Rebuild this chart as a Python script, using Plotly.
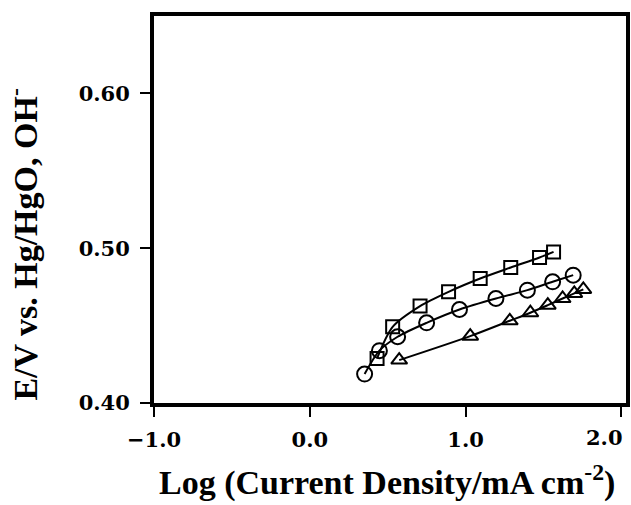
import plotly.graph_objects as go

# Data
sq_x = [0.432, 0.532, 0.708, 0.891, 1.094, 1.290, 1.475, 1.565]
sq_y = [0.4288, 0.4492, 0.4626, 0.4718, 0.4804, 0.4875, 0.4940, 0.4976]

ci_x = [0.352, 0.447, 0.564, 0.750, 0.961, 1.195, 1.397, 1.559, 1.691]
ci_y = [0.4187, 0.4338, 0.4428, 0.4518, 0.4604, 0.4675, 0.4729, 0.4783, 0.4826]

tr_x = [0.574, 1.030, 1.284, 1.416, 1.528, 1.623, 1.698, 1.756]
tr_y = [0.4277, 0.4432, 0.4531, 0.4583, 0.4632, 0.4675, 0.4708, 0.4734]

x_ticks = [-1.0, 0.0, 1.0, 2.0]
x_tick_labels = ["\u22121.0", "0.0", "1.0", "2.0"]
y_ticks = [0.40, 0.50, 0.60]
y_tick_labels = ["0.40", "0.50", "0.60"]

x_title = "Log (Current Density/mA cm<sup>-2</sup>)"
y_title = "E/V vs. Hg/HgO, OH<sup>-</sup>"

fig = go.Figure()

def add(xs, ys, sym, size):
    fig.add_trace(go.Scatter(
        x=xs, y=ys, mode="lines+markers",
        line=dict(color="black", width=2, shape="spline", smoothing=0.8),
        marker=dict(symbol=sym, size=size, color="black",
                    line=dict(color="black", width=2)),
        showlegend=False,
    ))

add(sq_x, sq_y, "square-open", 13)
add(ci_x, ci_y, "circle-open", 15)
add(tr_x, tr_y, "triangle-up-open", 14)

tick_font = dict(family="DejaVu Serif", size=21, color="black", weight="bold")

# last x tick label is drawn as an annotation, nudged left so it stays inside
axis_tick_text = x_tick_labels[:-1] + [""]

fig.update_xaxes(
    range=[-1.0, 2.03], tickvals=x_ticks, ticktext=axis_tick_text,
    showgrid=False, zeroline=False,
    showline=True, linewidth=4, linecolor="black", mirror=True,
    ticks="outside", ticklen=10, tickwidth=2, tickcolor="black",
    tickfont=tick_font, ticklabelstandoff=5,
)
fig.update_yaxes(
    range=[0.40, 0.65], tickvals=y_ticks, ticktext=y_tick_labels,
    showgrid=False, zeroline=False,
    showline=True, linewidth=4, linecolor="black", mirror=True,
    ticks="outside", ticklen=10, tickwidth=2, tickcolor="black",
    tickfont=tick_font, ticklabelstandoff=6,
)

title_font = dict(family="Liberation Serif", size=34, color="black", weight="bold")

fig.update_layout(
    width=631, height=505,
    margin=dict(l=154, r=1, t=16, b=102),
    plot_bgcolor="white", paper_bgcolor="white",
    annotations=[
        dict(text=x_tick_labels[-1], xref="x", yref="paper", x=x_ticks[-1], y=0,
             xanchor="right", yanchor="top", xshift=4, yshift=-20,
             showarrow=False, font=tick_font),
        dict(text=x_title, xref="paper", yref="paper", x=0.493, y=-0.20,
             xanchor="center", yanchor="middle", showarrow=False, font=title_font),
        dict(text=y_title, xref="paper", yref="paper", x=-0.277, y=0.41,
             xanchor="center", yanchor="middle", textangle=-90,
             showarrow=False, font=title_font),
    ],
)

fig.write_html(
    "out.html",
    config={"displayModeBar": False},
    post_script="document.body.style.margin='0';document.body.style.overflow='hidden';",
)
